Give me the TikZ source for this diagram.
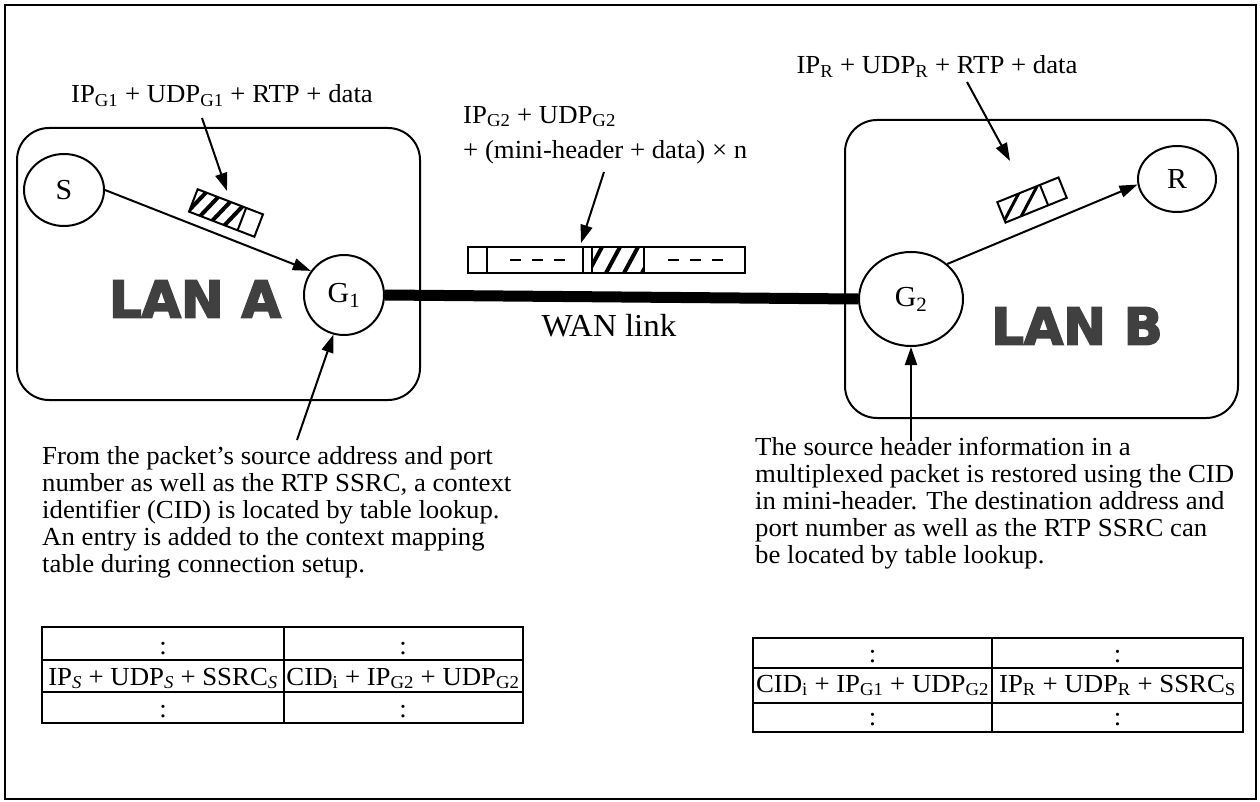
\documentclass[tikz,border=0pt]{standalone}
\usepackage{fontspec}
\setmainfont{Liberation Serif}[FakeStretch=1.03]
\newfontfamily\lanfont{DejaVu Sans}[BoldFeatures={FakeBold=3.5}]
\usetikzlibrary{arrows.meta,shapes.geometric}
\newcommand\sbs[1]{\textsubscript{#1}}
\definecolor{langray}{HTML}{404040}
\begin{document}
\begin{tikzpicture}[x=1pt,y=-1pt,
  txt/.style={font=\fontsize{26}{27}\selectfont, inner sep=0pt},
  host/.style={draw, line width=2pt, ellipse, inner sep=0pt, font=\fontsize{29}{30}\selectfont},
  lanbox/.style={draw, line width=2pt, rounded corners=32pt},
  lanlbl/.style={font=\lanfont\bfseries\fontsize{51}{52}\selectfont, text=langray, inner sep=0pt},
  arr/.style={line width=2pt, -{Triangle[length=18pt,width=12pt]}},
  wan/.style={line width=11pt},
  pkt/.style={line width=2pt},
  hatch/.style={line width=4pt},
  dashmark/.style={line width=2.5pt},
  tline/.style={line width=1.8pt}
]
\useasboundingbox (0,0) rectangle (1260,802);
\draw[line width=2.5pt] (5,5) rectangle (1256,799);

% LAN boxes
\draw[lanbox] (17,128) rectangle (420,400);
\draw[lanbox] (845,120) rectangle (1238,418);

% hosts
\node[host, minimum width=80pt, minimum height=72pt] (S) at (64,190) {S};
\node[host, minimum width=80pt, minimum height=80pt] (G1) at (344,295) {G\sbs{1}};
\node[host, minimum width=104pt, minimum height=94pt] (G2) at (911,299) {G\sbs{2}};
\node[host, minimum width=78pt, minimum height=66pt] (R) at (1177,179) {R};

% LAN labels
\node[lanlbl] (la) at (195,299) {LAN A};
\node[lanlbl] (lb) at (1077,326) {LAN B};

% WAN link
\draw[wan] (G1.east) -- (G2.west);
\node[txt, font=\fontsize{32}{34}\selectfont] (wl) at (609,326) {WAN link};

% LAN arrows
\draw[arr] (S.east) -- (G1.144);
\draw[arr] (G2.44) -- (R.188);

% packet in LAN A
\begin{scope}[shift={(226,213)}, rotate=-21]
  \begin{scope}
    \clip (-35,-12) rectangle (17,12);
    \foreach \u in {-36,-23,-10,3} \draw[hatch] (\u,12) -- (\u+10,-12);
  \end{scope}
  \draw[pkt] (-35,-12) rectangle (35,12);
  \draw[pkt] (17,-12) -- (17,12);
\end{scope}

% packet in LAN B
\begin{scope}[shift={(1032,200)}, rotate=22]
  \begin{scope}
    \clip (-33,-11) rectangle (13,11);
    \foreach \u in {-36,-16} \draw[line width=3pt] (\u,11) -- (\u+26,-11);
  \end{scope}
  \draw[pkt] (-33,-11) rectangle (33,11);
  \draw[pkt] (13,-11) -- (13,11);
\end{scope}

% packet on WAN
\draw[pkt] (468,247) rectangle (745,273);
\draw[pkt] (487,247) -- (487,273);
\draw[pkt] (583,247) -- (583,273);
\draw[pkt] (592,247) -- (592,273);
\draw[pkt] (644,247) -- (644,273);
\begin{scope}
  \clip (592,247) rectangle (644,273);
  \foreach \u in {588,606,624,642} \draw[hatch] (\u,273) -- (\u+14,247);
\end{scope}
\foreach \u in {510,532,554,668,690,712} \draw[dashmark] (\u,260) -- (\u+11,260);

% packet labels
\node[txt, anchor=base] (lA) at (222,103) {IP\sbs{G1} + UDP\sbs{G1} + RTP + data};
\node[txt, anchor=base] (lB) at (937,74) {IP\sbs{R} + UDP\sbs{R} + RTP + data};
\node[txt, anchor=north west, align=left] (lW) at (463,105.8) {IP\sbs{G2} + UDP\sbs{G2}\\[8pt]+ (mini-header + data) × n};

\coordinate (aAs) at (202,118); \coordinate (aAt) at (227,191);
\draw[arr] (aAs) -- (aAt);
\coordinate (aBs) at (967,82); \coordinate (aBt) at (1010,161);
\draw[arr] (aBs) -- (aBt);
\coordinate (aWs) at (604,172); \coordinate (aWt) at (581,243);
\draw[arr] (aWs) -- (aWt);

% explanation texts
\node[txt, anchor=north west, align=left] (tA) at (42,446.2)
  {From the packet’s source address and port\\number as well as the RTP SSRC, a context\\identifier (CID) is located by table lookup.\\An entry is added to the context mapping\\table during connection setup.};
\node[txt, anchor=north west, align=left] (tB) at (755,437.2)
  {The source header information in a\\multiplexed packet is restored using the CID\\in mini-header. The destination address and\\port number as well as the RTP SSRC can\\be located by table lookup.};
\coordinate (tAa) at (297,440);
\draw[arr] (tAa) -- (G1.255);
\coordinate (tBa) at (911,441);
\draw[arr] (tBa) -- (G2.south);

% table A
\draw[tline] (42,627) rectangle (523,723);
\draw[tline] (42,660) -- (523,660);
\draw[tline] (42,692) -- (523,692);
\draw[tline] (284,627) -- (284,723);
\node[txt, anchor=base] (a11) at (163,654) {:};
\node[txt, anchor=base] (a12) at (403,654) {:};
\node[txt, anchor=base] (a21) at (163,685) {IP\sbs{\textit{S}} + UDP\sbs{\textit{S}} + SSRC\sbs{\textit{S}}};
\node[txt, anchor=base] (a22) at (403,685) {CID\sbs{i} + IP\sbs{G2} + UDP\sbs{G2}};
\node[txt, anchor=base] (a31) at (163,717) {:};
\node[txt, anchor=base] (a32) at (403,717) {:};

% table B
\draw[tline] (753,638) rectangle (1243,732);
\draw[tline] (753,668) -- (1243,668);
\draw[tline] (753,703) -- (1243,703);
\draw[tline] (992,638) -- (992,732);
\node[txt, anchor=base] (b11) at (872.5,662) {:};
\node[txt, anchor=base] (b12) at (1117.5,662) {:};
\node[txt, anchor=base] (b21) at (872.5,692) {CID\sbs{i} + IP\sbs{G1} + UDP\sbs{G2}};
\node[txt, anchor=base] (b22) at (1117.5,692) {IP\sbs{R} + UDP\sbs{R} + SSRC\sbs{S}};
\node[txt, anchor=base] (b31) at (872.5,725) {:};
\node[txt, anchor=base] (b32) at (1117.5,725) {:};
\end{tikzpicture}
\end{document}
